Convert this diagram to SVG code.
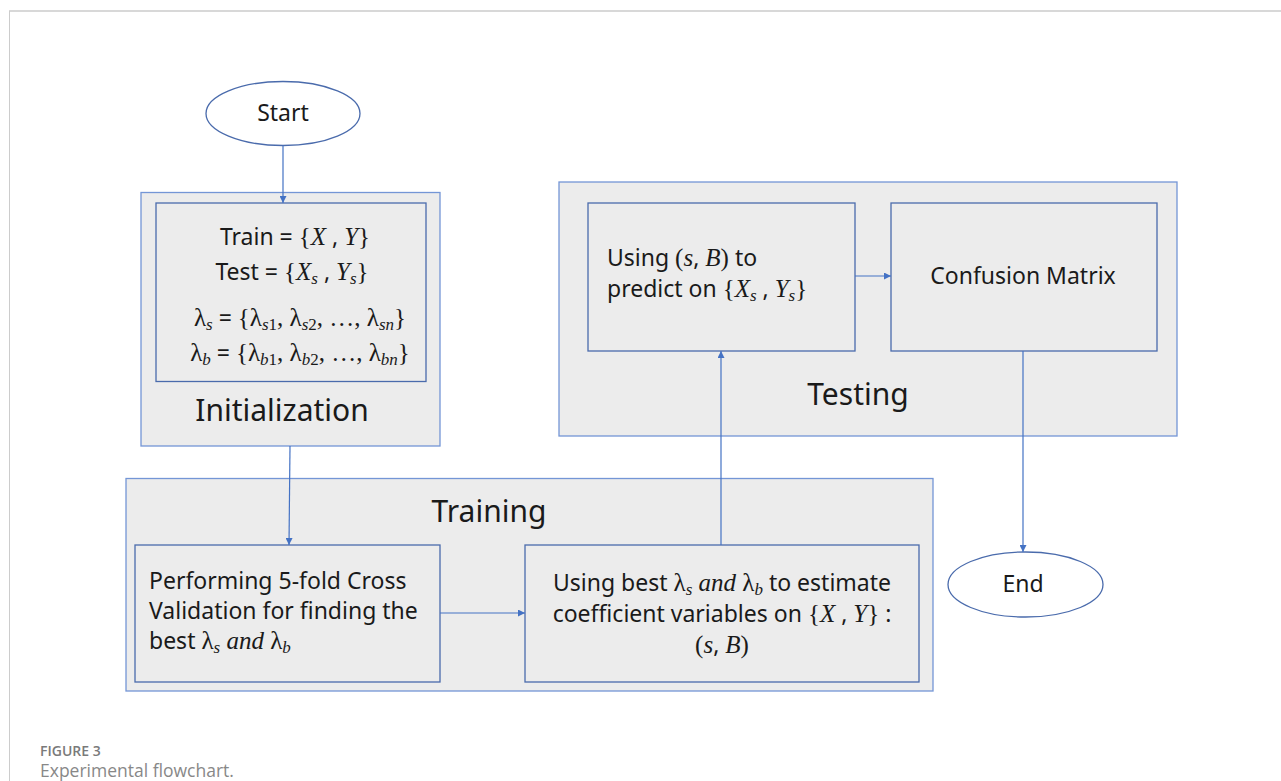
<svg xmlns="http://www.w3.org/2000/svg" width="1281" height="781" viewBox="0 0 1281 781">
<defs>
<style>
.outer{fill:#ececec;stroke:#7496d6;stroke-width:1.3}
.inner{fill:#ececec;stroke:#4a6bac;stroke-width:1.3}
.term{fill:#ffffff;stroke:#4a6bac;stroke-width:1.3}
.t{font-family:"Noto Sans","Open Sans",sans-serif;font-size:23px;fill:#1a1a1a}
.lab{font-family:"Noto Sans","Open Sans",sans-serif;font-size:30px;fill:#1a1a1a}
.m{font-family:"Liberation Serif","DejaVu Serif",serif;font-size:25px}
.i{font-family:"Liberation Serif","DejaVu Serif",serif;font-style:italic;font-size:25px}
.sb{font-family:"Liberation Serif","DejaVu Serif",serif;font-style:italic;font-size:17px}
.sn{font-family:"Liberation Serif","DejaVu Serif",serif;font-size:17px}
.conn{stroke:#4472c4;stroke-width:1.2;fill:none;marker-end:url(#ah)}
.cap1{font-family:"Open Sans","Noto Sans",sans-serif;font-size:14px;font-weight:600;fill:#7a7a7a}
.cap2{font-family:"Open Sans","Noto Sans",sans-serif;font-size:17.5px;fill:#888888}
</style>
<marker id="ah" viewBox="0 0 10 10" refX="10" refY="5" markerWidth="7" markerHeight="7" markerUnits="userSpaceOnUse" orient="auto">
<path d="M0,0 L10,5 L0,10 z" fill="#4472c4"/>
</marker>
</defs>
<rect x="0" y="0" width="1281" height="781" fill="#ffffff"/>
<line x1="9" y1="11" x2="1281" y2="11" stroke="#d8d8d8" stroke-width="2"/>
<line x1="9.5" y1="11" x2="9.5" y2="781" stroke="#cccccc" stroke-width="1"/>

<g id="start">
<ellipse class="term" cx="283" cy="113.5" rx="77" ry="32"/>
<text class="t" x="283" y="121" text-anchor="middle">Start</text>
</g>

<g id="initialization">
<rect class="outer" x="141" y="192.5" width="299" height="253.5"/>
<rect class="inner" x="156" y="203" width="270" height="178.5"/>
<text class="t" x="295" y="245" text-anchor="middle">Train = <tspan class="m">{</tspan><tspan class="i">X</tspan> , <tspan class="i">Y</tspan><tspan class="m">}</tspan></text>
<text class="t" x="292" y="280" text-anchor="middle">Test = <tspan class="m">{</tspan><tspan class="i">X</tspan><tspan class="sb" dy="4">s</tspan><tspan dy="-4"> , </tspan><tspan class="i">Y</tspan><tspan class="sb" dy="4">s</tspan><tspan class="m" dy="-4">}</tspan></text>
<text class="t" x="300" y="326" text-anchor="middle"><tspan class="m">λ</tspan><tspan class="sb" dy="4">s</tspan><tspan dy="-4"> = </tspan><tspan class="m">{λ</tspan><tspan class="sb" dy="4">s</tspan><tspan class="sn">1</tspan><tspan class="m" dy="-4">, λ</tspan><tspan class="sb" dy="4">s</tspan><tspan class="sn">2</tspan><tspan class="m" dy="-4">, …, λ</tspan><tspan class="sb" dy="4">sn</tspan><tspan class="m" dy="-4">}</tspan></text>
<text class="t" x="300" y="361" text-anchor="middle"><tspan class="m">λ</tspan><tspan class="sb" dy="4">b</tspan><tspan dy="-4"> = </tspan><tspan class="m">{λ</tspan><tspan class="sb" dy="4">b</tspan><tspan class="sn">1</tspan><tspan class="m" dy="-4">, λ</tspan><tspan class="sb" dy="4">b</tspan><tspan class="sn">2</tspan><tspan class="m" dy="-4">, …, λ</tspan><tspan class="sb" dy="4">bn</tspan><tspan class="m" dy="-4">}</tspan></text>
<text class="lab" x="282" y="421" text-anchor="middle">Initialization</text>
</g>

<g id="testing">
<rect class="outer" x="559" y="182" width="618" height="254"/>
<text class="lab" x="858" y="405" text-anchor="middle">Testing</text>
</g>
<g id="predict">
<rect class="inner" x="588" y="203" width="267" height="148"/>
<text class="t" x="607" y="266">Using <tspan class="m">(</tspan><tspan class="i">s</tspan>, <tspan class="i">B</tspan><tspan class="m">)</tspan> to</text>
<text class="t" x="607" y="297">predict on <tspan class="m">{</tspan><tspan class="i">X</tspan><tspan class="sb" dy="4">s</tspan><tspan dy="-4"> , </tspan><tspan class="i">Y</tspan><tspan class="sb" dy="4">s</tspan><tspan class="m" dy="-4">}</tspan></text>
</g>
<g id="confusion">
<rect class="inner" x="891" y="203" width="266" height="148"/>
<text class="t" x="1023" y="284" text-anchor="middle">Confusion Matrix</text>
</g>

<g id="training">
<rect class="outer" x="126" y="478.5" width="807" height="212.5"/>
<text class="lab" x="489" y="522" text-anchor="middle">Training</text>
</g>
<g id="crossval">
<rect class="inner" x="135" y="545" width="305" height="137"/>
<text class="t" x="149" y="589">Performing 5-fold Cross</text>
<text class="t" x="149" y="619">Validation for finding the</text>
<text class="t" x="149" y="649">best <tspan class="m">λ</tspan><tspan class="sb" dy="4">s</tspan><tspan class="i" dy="-4">  and </tspan><tspan class="m">λ</tspan><tspan class="sb" dy="4">b</tspan></text>
</g>
<g id="estimate">
<rect class="inner" x="525" y="545" width="394" height="137"/>
<text class="t" x="722" y="591" text-anchor="middle">Using best <tspan class="m">λ</tspan><tspan class="sb" dy="4">s</tspan><tspan class="i" dy="-4">  and </tspan><tspan class="m">λ</tspan><tspan class="sb" dy="4">b</tspan><tspan dy="-4"> to estimate</tspan></text>
<text class="t" x="722" y="622" text-anchor="middle">coefficient variables on <tspan class="m">{</tspan><tspan class="i">X</tspan> , <tspan class="i">Y</tspan><tspan class="m">}</tspan> :</text>
<text class="t" x="722" y="653" text-anchor="middle"><tspan class="m">(</tspan><tspan class="i">s</tspan>, <tspan class="i">B</tspan><tspan class="m">)</tspan></text>
</g>

<g id="end">
<ellipse class="term" cx="1025.5" cy="584.5" rx="77.5" ry="32.5"/>
<text class="t" x="1023" y="592" text-anchor="middle">End</text>
</g>

<g id="connectors">
<line class="conn" x1="283" y1="145.5" x2="283" y2="203"/>
<line class="conn" x1="290" y1="446" x2="289" y2="545"/>
<line class="conn" x1="440" y1="613" x2="525" y2="613"/>
<line class="conn" x1="721" y1="545" x2="721" y2="351"/>
<line class="conn" x1="855" y1="276" x2="891" y2="276"/>
<line class="conn" x1="1023" y1="351" x2="1023" y2="552"/>
</g>

<g id="caption">
<text class="cap1" x="40" y="756">FIGURE 3</text>
<text class="cap2" x="40" y="777">Experimental flowchart.</text>
</g>
</svg>
